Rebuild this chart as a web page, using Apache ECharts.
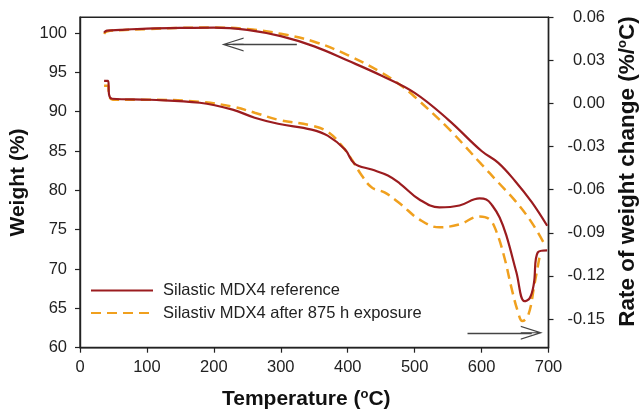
<!DOCTYPE html>
<html>
<head>
<meta charset="utf-8">
<script src="https://cdn.jsdelivr.net/npm/echarts@6/dist/echarts.min.js"></script>
<style>
html,body{margin:0;padding:0;background:#fff;}
#chart{width:641px;height:412px;}
</style>
</head>
<body>
<div id="chart"></div>
<script>
// ---- data ----
const seriesNames = ['Silastic MDX4 reference', 'Silastiv MDX4 after 875 h exposure'];

// Weight (%) curves, left axis
const refWeightT = [36, 40, 60, 100, 150, 200, 250, 300, 350, 400, 450, 500, 550, 600, 625, 650, 675, 698];
const refWeight  = [100.05, 100.3, 100.4, 100.55, 100.65, 100.7, 100.4, 99.6, 98.3, 96.5, 94.6, 92.4, 89.0, 85.0, 83.5, 81.2, 78.5, 75.5];
const expWeightT = [36, 40, 60, 100, 150, 200, 250, 300, 350, 400, 450, 480, 500, 550, 600, 625, 650, 675, 695];
const expWeight  = [99.9, 100.2, 100.35, 100.5, 100.65, 100.7, 100.5, 99.9, 98.9, 97.2, 95.0, 93.3, 91.9, 87.9, 83.3, 81.0, 78.7, 75.9, 73.0];

// Rate of weight change (%/°C) curves, right axis
const refRateT = [36, 42, 43.5, 48, 105, 179, 228, 261, 296, 346, 370, 396, 410, 436, 460, 478, 507, 537, 567, 597, 607, 616, 627, 637, 652, 664, 672, 678, 684, 698];
const refRate  = [0.0158, 0.0158, 0.006, 0.0033, 0.0026, 0.0005, -0.0043, -0.0099, -0.0141, -0.0182, -0.0224, -0.0321, -0.0418, -0.046, -0.0501, -0.0557, -0.0668, -0.0723, -0.071, -0.0661, -0.0668, -0.071, -0.0793, -0.0918, -0.1175, -0.1376, -0.1355, -0.1258, -0.1036, -0.1022];
const expRateT = [36, 42, 43.5, 49, 105, 179, 228, 261, 296, 346, 370, 391, 406, 421, 436, 455, 478, 507, 537, 567, 597, 612, 622, 634, 645, 654, 661, 670, 679, 688];
const expRate  = [0.0123, 0.0123, 0.0053, 0.0026, 0.0026, 0.0012, -0.0022, -0.0064, -0.0113, -0.0154, -0.0196, -0.0293, -0.039, -0.0501, -0.0585, -0.0619, -0.0696, -0.0807, -0.0862, -0.0841, -0.0786, -0.0807, -0.089, -0.107, -0.129, -0.1445, -0.1515, -0.147, -0.126, -0.103];

// axis ticks
const xTicks = [0, 100, 200, 300, 400, 500, 600, 700];
const weightTicks = [60, 65, 70, 75, 80, 85, 90, 95, 100];
const rateTicks = [-0.15, -0.12, -0.09, -0.06, -0.03, 0.00, 0.03, 0.06];

// ---- chart ----
const zip = (a, b) => a.map((v, i) => [v, b[i]]);
const FONT = '"Liberation Sans", Arial, Helvetica, sans-serif';
const RED = '#9b1c1f';
const ORANGE = '#f0a01e';
const AXIS = '#222';
const arrowPath = 'path://M70,0 L140,230 L128,230 L76,59 L76,230 L64,230 L64,59 L12,230 L0,230 Z';

const chart = echarts.init(document.getElementById('chart'), null, {renderer: 'canvas'});
const supRich = {
  sup: {fontSize: 13, fontWeight: 'bold', fontFamily: FONT, color: '#111', verticalAlign: 'top', padding: [0, 0, 11, 0]}
};

const option = {
  animation: false,
  backgroundColor: '#fff',
  textStyle: {fontFamily: FONT},
  grid: {left: 80, right: 92.5, top: 17.3, bottom: 64.3, outerBoundsMode: 'none', containLabel: false,
    show: true, borderColor: AXIS, borderWidth: 1.4, backgroundColor: 'transparent'},
  legend: {
    data: seriesNames,
    orient: 'vertical',
    left: 90, top: 282,
    padding: 0,
    itemWidth: 62, itemHeight: 14, itemGap: 5.5,
    itemStyle: {opacity: 0},
    textStyle: {fontSize: 16.5, color: '#222', fontFamily: FONT, lineHeight: 17, padding: [0, 0, 0, 5]}
  },
  xAxis: {
    type: 'value', min: 0, max: 700, interval: 100,
    name: 'Temperature ({sup|o}C)', nameLocation: 'middle', nameGap: 40,
    nameTextStyle: {fontSize: 21, fontWeight: 'bold', color: '#111', fontFamily: FONT, padding: [0, 16, 0, 0], rich: supRich},
    axisLine: {show: true, onZero: false, lineStyle: {color: AXIS, width: 1.4}},
    axisTick: {show: true, length: 5, inside: false, lineStyle: {color: AXIS, width: 1.2}, customValues: xTicks},
    axisLabel: {fontSize: 16.5, color: '#222', margin: 11, fontFamily: FONT, customValues: xTicks},
    splitLine: {show: false}
  },
  yAxis: [
    {
      type: 'value', min: 60, max: 102, position: 'left',
      name: 'Weight (%)', nameLocation: 'middle', nameGap: 45, nameRotate: 90,
      nameTextStyle: {fontSize: 21, fontWeight: 'bold', color: '#111', fontFamily: FONT},
      axisLine: {show: true, lineStyle: {color: AXIS, width: 1.4}},
      axisTick: {show: true, length: 5, inside: false, lineStyle: {color: AXIS, width: 1.2}, customValues: weightTicks},
      axisLabel: {fontSize: 16.5, color: '#222', margin: 13, fontFamily: FONT, customValues: weightTicks},
      splitLine: {show: false}
    },
    {
      type: 'value', min: -0.17, max: 0.06, position: 'right',
      name: 'Rate of weight change (%/{sup|o}C)', nameLocation: 'middle', nameGap: 67, nameRotate: 90,
      nameTextStyle: {fontSize: 22.5, fontWeight: 'bold', color: '#111', fontFamily: FONT, padding: [0, 0, 0, 22], rich: supRich},
      axisLine: {show: true, lineStyle: {color: AXIS, width: 1.4}},
      axisTick: {show: true, length: 5, inside: false, lineStyle: {color: AXIS, width: 1.2}, customValues: rateTicks},
      axisLabel: {fontSize: 16.5, color: '#222', margin: 56.5, align: 'right', fontFamily: FONT, customValues: rateTicks,
        formatter: v => v.toFixed(2)},
      splitLine: {show: false}
    }
  ],
  series: [
    {
      name: seriesNames[0], type: 'line', yAxisIndex: 0, data: zip(refWeightT, refWeight),
      symbol: 'none', smooth: 0.4, z: 3,
      lineStyle: {color: RED, width: 2.2}, itemStyle: {color: RED},
      markLine: {
        silent: true, animation: false,
        label: {show: false},
        lineStyle: {color: '#444', width: 1.3, type: 'solid'},
        data: [
          [{coord: [324, 98.55], symbol: 'none'}, {coord: [228, 98.55], symbol: arrowPath, symbolSize: [14, 22]}],
          [{coord: [579, 61.9], symbol: 'none'}, {coord: [675, 61.9], symbol: arrowPath, symbolSize: [14, 22]}]
        ]
      }
    },
    {
      name: seriesNames[1], type: 'line', yAxisIndex: 0, data: zip(expWeightT, expWeight),
      symbol: 'none', smooth: 0.4, z: 2,
      lineStyle: {color: ORANGE, width: 2.5, type: [10, 6]}, itemStyle: {color: ORANGE}
    },
    {
      name: seriesNames[0], type: 'line', yAxisIndex: 1, data: zip(refRateT, refRate),
      symbol: 'none', smooth: 0.4, z: 3,
      lineStyle: {color: RED, width: 2.2}, itemStyle: {color: RED}
    },
    {
      name: seriesNames[1], type: 'line', yAxisIndex: 1, data: zip(expRateT, expRate),
      symbol: 'none', smooth: 0.4, z: 2,
      lineStyle: {color: ORANGE, width: 2.5, type: [10, 6]}, itemStyle: {color: ORANGE}
    }
  ]
};
chart.setOption(option);
</script>
</body>
</html>
